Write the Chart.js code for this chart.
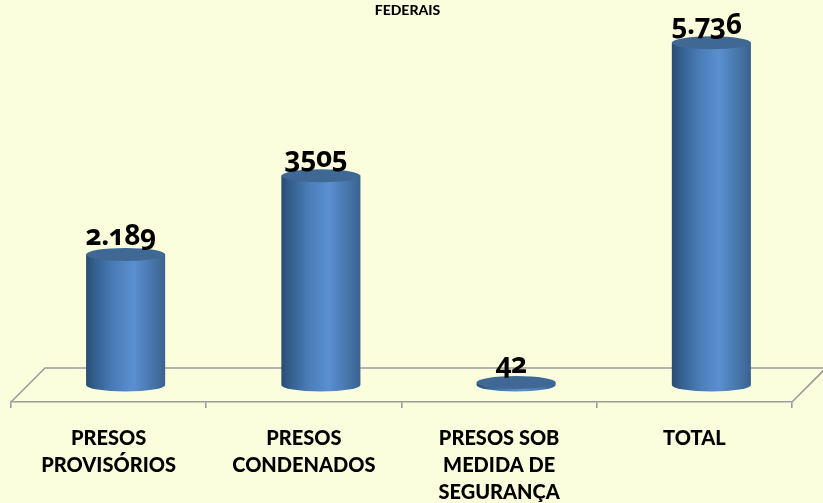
<!DOCTYPE html>
<html><head><meta charset="utf-8">
<style>
html,body{margin:0;padding:0;background:#FBFEDC;overflow:hidden}
#wrap{position:relative;width:823px;height:503px}
.v{position:absolute;font:700 28px "Open Sans",sans-serif;font-feature-settings:"onum" 1,"lnum" 0;color:#000;transform:translate(-50%,-50%);white-space:nowrap;line-height:1;letter-spacing:-0.5px}
</style>
<script src="https://cdn.jsdelivr.net/npm/chart.js@4"></script>
</head><body><div id="wrap"><canvas id="c" width="823" height="503" style="display:block;width:823px;height:503px"></canvas></div>
<script>
const categories=[["PRESOS","PROVISÓRIOS"],["PRESOS","CONDENADOS"],["PRESOS SOB","MEDIDA DE","SEGURANÇA"],["TOTAL"]];
const values=[2189,3505,42,5736];
const valueLabels=["2.189","3505","42","5.736"];
const titleText="FEDERAIS";
const DEPTH=34, GRID="#9C9C9A";

const floorAndCyl={id:'floorAndCyl',
 beforeDatasetsDraw(chart){
  const {ctx,chartArea:a}=chart;
  ctx.save();ctx.strokeStyle=GRID;ctx.lineWidth=1.6;ctx.beginPath();
  ctx.moveTo(a.left,a.bottom);ctx.lineTo(a.left+DEPTH,a.bottom-DEPTH);
  ctx.lineTo(a.right+DEPTH,a.bottom-DEPTH);ctx.lineTo(a.right,a.bottom);ctx.stroke();
  ctx.fillStyle='#000';ctx.font='900 14px Lato';ctx.textAlign='center';ctx.textBaseline='middle';
  ctx.fillText(titleText,407.5,10);
  ctx.restore();
 },
 afterDatasetsDraw(chart){
  const {ctx}=chart;
  chart.getDatasetMeta(0).data.forEach(b=>{
   const d=DEPTH/2, cx=b.x+d, w=b.width, rx=w/2, ry=6.5, yt=b.y-d, yb=b.base-d, l=cx-rx, r=cx+rx;
   const g=ctx.createLinearGradient(l,0,r,0);
   g.addColorStop(0,'#2A4C74');g.addColorStop(.12,'#34608F');g.addColorStop(.35,'#4A7DB8');
   g.addColorStop(.6,'#5A8FD0');g.addColorStop(.85,'#4674A8');g.addColorStop(1,'#3A628F');
   ctx.save();ctx.fillStyle=g;ctx.beginPath();
   ctx.moveTo(l,yt);ctx.lineTo(l,yb);ctx.ellipse(cx,yb,rx,ry,0,Math.PI,0,true);ctx.lineTo(r,yt);ctx.closePath();ctx.fill();
   ctx.fillStyle='#3F6895';ctx.beginPath();ctx.ellipse(cx,yt,rx,ry,0,0,Math.PI*2);ctx.fill();
   ctx.restore();
  });
 },
 afterRender(chart){
  if(chart.$labelsDone)return;chart.$labelsDone=true;
  const wrap=document.getElementById('wrap');
  chart.getDatasetMeta(0).data.forEach((b,i)=>{
   const s=document.createElement('div');s.className='v';s.textContent=valueLabels[i];
   s.style.left=(b.x+DEPTH/2-5)+'px';s.style.top=(b.y-DEPTH/2-20)+'px';wrap.appendChild(s);
  });
 }};

new Chart(document.getElementById('c'),{
 type:'bar',
 data:{labels:categories,datasets:[{data:values,backgroundColor:'transparent',borderWidth:0,categoryPercentage:1,barPercentage:.405}]},
 plugins:[floorAndCyl],
 options:{responsive:false,animation:false,
  layout:{padding:{left:11,right:31,top:44,bottom:0}},
  plugins:{legend:{display:false},tooltip:{enabled:false},title:{display:false}},
  scales:{
   y:{display:false,min:0,max:6000},
   x:{afterFit(s){s.height=101},
    border:{color:GRID,width:1.6},
    grid:{color:GRID,lineWidth:1.6,drawOnChartArea:false,tickLength:6},
    ticks:{color:'#000',font:{family:'Lato',weight:'900',size:20,lineHeight:1.35},padding:17,maxRotation:0,minRotation:0,autoSkip:false}}
  }}
});
</script></body></html>
